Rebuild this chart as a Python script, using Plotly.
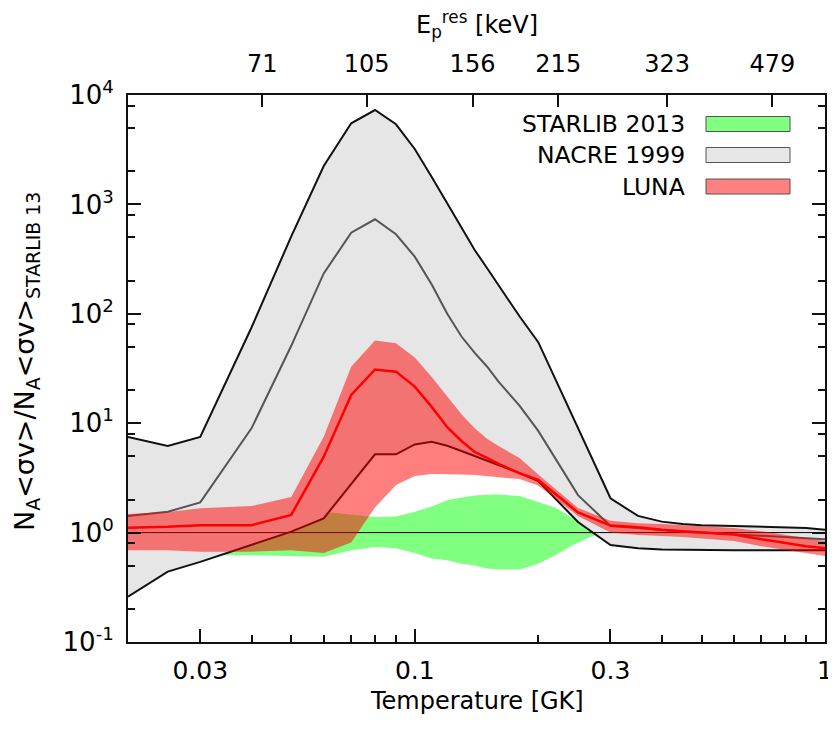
import plotly.graph_objects as go
import numpy as np

# ---------------- data ----------------
T = [0.02, 0.025, 0.03, 0.04, 0.05, 0.06, 0.07, 0.08, 0.09, 0.1, 0.11, 0.12, 0.13,
     0.14, 0.15, 0.16, 0.18, 0.2, 0.25, 0.3, 0.35, 0.4, 0.45, 0.5, 0.6, 0.7, 0.8, 0.9, 1.0]

nacre_high = [7.5, 6.2, 7.5, 75, 510, 2244, 5510, 7290, 5400, 3210, 1780, 1030, 608,
              383, 262, 183, 95, 55, 8.9, 2.06, 1.42, 1.26, 1.2, 1.17, 1.15, 1.13, 1.11, 1.1, 1.06]
nacre_rec = [1.42, 1.55, 1.89, 8.98, 51, 234, 551, 731, 533, 333, 185, 100, 62,
             44, 33, 24, 14.5, 8.5, 2.2, 1.15, 1.1, 1.05, 1.02, 1.0, 0.97, 0.94, 0.91, 0.89, 0.87]
nacre_low = [0.26, 0.44, 0.54, 0.77, 1.02, 1.35, 2.81, 5.2, 5.2, 6.4, 6.78, 6.22, 5.57,
             5.01, 4.51, 4.15, 3.5, 2.96, 1.25, 0.77, 0.72, 0.70, 0.695, 0.69, 0.69, 0.69, 0.69, 0.69, 0.69]

luna_rec = [1.11, 1.13, 1.17, 1.17, 1.45, 4.94, 18.1, 31, 29.6, 21.6, 14.1, 9.2, 6.88,
            5.45, 4.81, 4.24, 3.5, 3.03, 1.53, 1.16, 1.12, 1.06, 1.03, 1.0, 0.96, 0.87, 0.80, 0.75, 0.72]
luna_high = [1.48, 1.54, 1.67, 1.75, 2.11, 7.5, 32.8, 57, 53.7, 39.8, 26.4, 17.7, 12.1,
             9.0, 7.2, 6.2, 4.8, 3.4, 1.68, 1.28, 1.22, 1.2, 1.17, 1.15, 1.1, 1.03, 0.95, 0.89, 0.84]
luna_low = [0.69, 0.69, 0.67, 0.67, 0.69, 0.65, 0.81, 1.7, 2.72, 3.29, 3.43, 3.43, 3.4,
            3.36, 3.3, 3.2, 3.09, 2.7, 1.42, 1.0, 0.95, 0.93, 0.91, 0.89, 0.84, 0.75, 0.69, 0.65, 0.61]

T_star = [0.02, 0.025, 0.03, 0.04, 0.05, 0.06, 0.07, 0.08, 0.09, 0.1, 0.11, 0.12, 0.13,
          0.14, 0.15, 0.16, 0.18, 0.2, 0.22, 0.24, 0.26, 0.28, 0.3, 0.4, 0.6, 0.8, 1.0]
star_high = [1.5, 1.5, 1.5, 1.6, 1.68, 1.55, 1.45, 1.39, 1.40, 1.55, 1.73, 1.98, 2.09,
             2.18, 2.22, 2.23, 2.16, 1.92, 1.70, 1.39, 1.15, 1.035, 1.01, 1.01, 1.01, 1.01, 1.01]
star_low = [0.62, 0.62, 0.62, 0.62, 0.61, 0.60, 0.69, 0.74, 0.72, 0.65, 0.58, 0.56, 0.52,
            0.50, 0.47, 0.46, 0.46, 0.52, 0.62, 0.75, 0.87, 0.97, 0.99, 0.99, 0.99, 0.99, 0.99]

# top axis: resonance energies (keV) placed at the Gamow-peak temperature
E_res = [71, 105, 156, 215, 323, 479]
E0_coef = 0.122e3 * (1**2 * 10**2 * 22 / 23) ** (1 / 3) * 23 / 22  # keV * T9^(2/3)
T_of_E = [(e / E0_coef) ** 1.5 for e in E_res]

x_ticks = [0.03, 0.1, 0.3, 1]
x_ticktext = ["0.03", "0.1", "0.3", "1"]
x_minor = [0.04, 0.05, 0.06, 0.07, 0.08, 0.09, 0.2, 0.4, 0.5, 0.6, 0.7, 0.8, 0.9]
y_ticks = [0.1, 1, 10, 100, 1000, 10000]
y_ticktext = ["10<sup>-1</sup>", "10<sup>0</sup>", "10<sup>1</sup>", "10<sup>2</sup>",
              "10<sup>3</sup>", "10<sup>4</sup>"]
y_minor = [m * 10.0 ** d for d in range(-1, 4) for m in (2, 5, 8)]

legend_labels = ["STARLIB 2013", "NACRE 1999", "LUNA"]
legend_colors = ["#80ff80", "#e6e6e6", "#ff8080"]

x_title = "Temperature [GK]"
x2_title = "E<sub>p</sub><sup>res</sup> [keV]"
y_title = "N<sub>A</sub>&lt;σv&gt;/N<sub>A</sub>&lt;σv&gt;<sub>STARLIB 13</sub>"

# ---------------- figure ----------------
FONT = "DejaVu Sans"
FS = 24
fig = go.Figure()


def band(x, hi, lo, color):
    return go.Scatter(x=list(x) + list(x)[::-1], y=list(hi) + list(lo)[::-1],
                      fill="toself", fillcolor=color, mode="lines", line=dict(width=0),
                      hoverinfo="skip", showlegend=False)


fig.add_trace(band(T_star, star_high, star_low, "#80ff80"))
fig.add_trace(band(T, nacre_high, nacre_low, "#e6e6e6"))
fig.add_trace(go.Scatter(x=[T[0], T[-1]], y=[1, 1], mode="lines",
                         line=dict(color="black", width=1), showlegend=False, hoverinfo="skip"))
for ys, col in [(nacre_high, "#111111"), (nacre_rec, "#555555"), (nacre_low, "#111111")]:
    fig.add_trace(go.Scatter(x=T, y=ys, mode="lines", line=dict(color=col, width=2),
                             showlegend=False, hoverinfo="skip"))
fig.add_trace(band(T, luna_high, luna_low, "rgba(255,0,0,0.5)"))
fig.add_trace(go.Scatter(x=T, y=luna_rec, mode="lines", line=dict(color="#ff0000", width=2.5),
                         showlegend=False, hoverinfo="skip"))
# anchor trace for the top axis
fig.add_trace(go.Scatter(x=[T[0], T[-1]], y=[1, 1], xaxis="x2", mode="lines",
                         line=dict(width=0), showlegend=False, hoverinfo="skip"))

# The page body has an 8 px margin, so the figure is drawn 8 px lower/right.
OFF = 8
FIG_W, FIG_H = 836 - OFF, 737 - OFF
# wanted plot-area edges in page pixels
L, R, TOP, BOT = 128, 825, 95, 642
W, H = R - L, BOT - TOP
px = lambda v: (v - L) / W
py = lambda v: (BOT - v) / H

# legend drawn by hand (text left of the colour box, like the original)
rows = [124, 155, 186.5]
for lab, col, yc in zip(legend_labels, legend_colors, rows):
    fig.add_shape(type="rect", xref="paper", yref="paper",
                  x0=px(706), x1=px(790), y0=py(yc + 7.5), y1=py(yc - 7.5),
                  fillcolor=col, line=dict(color="#555555", width=1))
    fig.add_annotation(xref="paper", yref="paper", x=px(687), y=py(yc), text=lab,
                       showarrow=False, xanchor="right", yanchor="middle",
                       font=dict(family=FONT, size=23.5, color="black"))

# axis titles
fig.add_annotation(xref="paper", yref="paper", x=0.5, y=py(701), text=x_title,
                   showarrow=False, xanchor="center", yanchor="middle",
                   font=dict(family=FONT, size=FS, color="black"))
fig.add_annotation(xref="paper", yref="paper", x=0.5, y=py(24), text=x2_title,
                   showarrow=False, xanchor="center", yanchor="middle",
                   font=dict(family=FONT, size=FS, color="black"))
fig.add_annotation(xref="paper", yref="paper", x=px(26), y=py(362), text=y_title,
                   textangle=-90, showarrow=False, xanchor="center", yanchor="middle",
                   font=dict(family=FONT, size=27, color="black"))

axis_common = dict(type="log", showgrid=False, zeroline=False, showline=True,
                   linecolor="#111111", linewidth=2, ticks="inside",
                   tickcolor="#111111", tickwidth=1.5, automargin=False)

fig.update_layout(
    width=FIG_W, height=FIG_H,
    margin=dict(l=L - OFF, r=836 - R, t=TOP - OFF, b=737 - BOT, autoexpand=False),
    plot_bgcolor="white", paper_bgcolor="white",
    showlegend=False,
    xaxis=dict(**axis_common, range=[np.log10(0.02), 0], mirror=True,
               tickfont=dict(family=FONT, size=25, color="black"),
               tickmode="array", tickvals=x_ticks, ticktext=x_ticktext, ticklen=13,
               minor=dict(tickmode="array", tickvals=x_minor, ticklen=7, ticks="inside",
                          tickcolor="#111111", tickwidth=1.5),
               ticklabelstandoff=5),
    xaxis2=dict(**axis_common, range=[np.log10(0.02), 0], overlaying="x", side="top",
                tickfont=dict(family=FONT, size=FS, color="black"),
                anchor="y", tickmode="array", tickvals=T_of_E,
                ticktext=[str(e) for e in E_res], ticklen=12,
                ticklabelstandoff=11),
    yaxis=dict(**axis_common, range=[-1, 4], mirror="ticks",
               tickfont=dict(family=FONT, size=26, color="black"),
               tickmode="array", tickvals=y_ticks, ticktext=y_ticktext, ticklen=13,
               minor=dict(tickmode="array", tickvals=y_minor, ticklen=7, ticks="inside",
                          tickcolor="#111111", tickwidth=1.5),
               ticklabelstandoff=7),
)

fig.write_html("out.html")
